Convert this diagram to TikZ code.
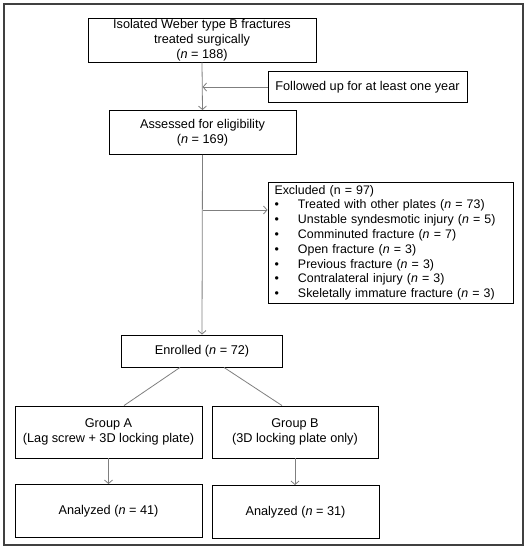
\documentclass[tikz,border=0pt]{standalone}
\usepackage{fontspec}
\setmainfont{Liberation Sans}
\usetikzlibrary{arrows.meta}
\definecolor{conn}{HTML}{7F7F7F}
\definecolor{frame}{HTML}{404040}
\begin{document}
\begin{tikzpicture}[x=1pt,y=-1pt,
  box/.style={draw=black, line width=0.9pt, align=center, inner sep=0pt, font=\fontsize{12.7}{15}\selectfont},
  conline/.style={draw=conn, line width=0.8pt},
  arr/.style={conline, -{Straight Barb[length=3.5pt,width=8pt]}}]
\useasboundingbox (0,0) rectangle (529,550);
\draw[frame, line width=1.5pt] (4,4) rectangle (523,545);

\node[box, minimum width=228pt, minimum height=44pt] (iso) at (202,40)
  {Isolated Weber type B fractures\\treated surgically\\(\textit{n} = 188)};
\node[box, minimum width=199pt, minimum height=31pt] (fol) at (367.5,87)
  {Followed up for at least one year};
\node[box, minimum width=187pt, minimum height=44pt] (ass) at (202.5,132.5)
  {Assessed for eligibility\\(\textit{n} = 169)};
\node[box, minimum width=245pt, minimum height=121.5pt, align=left, text width=232pt,
  inner xsep=6.5pt, font=\fontsize{12.4}{14.8}\selectfont] (exc) at (390.5,242.75)
  {Excluded (n = 97)\\
   \makebox[23.5pt][l]{\textbullet}Treated with other plates (\textit{n} = 73)\\
   \makebox[23.5pt][l]{\textbullet}Unstable syndesmotic injury (\textit{n} = 5)\\
   \makebox[23.5pt][l]{\textbullet}Comminuted fracture (\textit{n} = 7)\\
   \makebox[23.5pt][l]{\textbullet}Open fracture (\textit{n} = 3)\\
   \makebox[23.5pt][l]{\textbullet}Previous fracture (\textit{n} = 3)\\
   \makebox[23.5pt][l]{\textbullet}Contralateral injury (\textit{n} = 3)\\
   \makebox[23.5pt][l]{\textbullet}Skeletally immature fracture (\textit{n} = 3)};
\node[box, minimum width=161.5pt, minimum height=32pt] (enr) at (202,351)
  {Enrolled (\textit{n} = 72)};
\node[box, minimum width=187pt, minimum height=52pt] (ga) at (108.5,432)
  {Group A\\(Lag screw + 3D locking plate)};
\node[box, minimum width=166pt, minimum height=52pt] (gb) at (295,432)
  {Group B\\(3D locking plate only)};
\node[box, minimum width=187pt, minimum height=53pt] (aa) at (108.5,511)
  {Analyzed (\textit{n} = 41)};
\node[box, minimum width=167pt, minimum height=53pt] (ab) at (295.5,512)
  {Analyzed (\textit{n} = 31)};

\coordinate (j1) at (202.5,87);
\coordinate (j2) at (202.5,210);

\draw[arr] (iso.south) -- (ass.north);
\draw[arr] (fol.west) -- (j1);
\draw[arr] (ass.south) -- (enr.north);
\draw[arr] (j2) -- (j2 -| exc.west);
\draw[conline] ([xshift=-22pt]enr.south) -- ([xshift=15.5pt]ga.north);
\draw[conline] ([xshift=22pt]enr.south) -- ([xshift=-13pt]gb.north);
\draw[arr] (ga.south) -- (aa.north);
\draw[arr] (gb.south) -- (gb.south |- ab.north);
\end{tikzpicture}
\end{document}
